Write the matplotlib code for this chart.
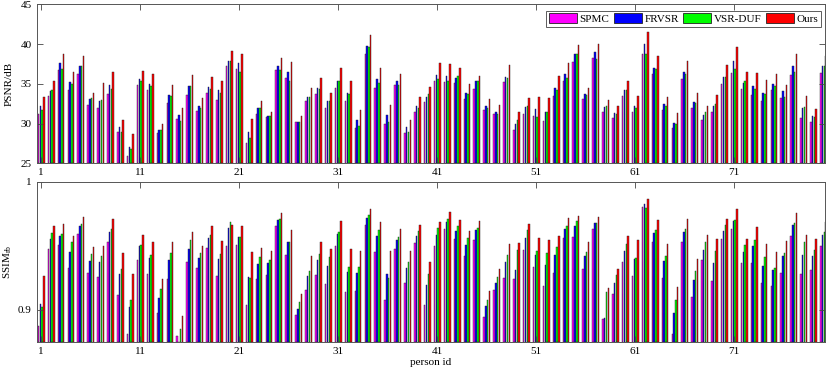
import matplotlib
matplotlib.use("Agg")
import matplotlib.pyplot as plt
import numpy as np

plt.rcParams["font.family"] = ["Liberation Serif", "DejaVu Serif"]
plt.rcParams["mathtext.fontset"] = "custom"
plt.rcParams["mathtext.rm"] = "Liberation Serif"
plt.rcParams["mathtext.it"] = "Liberation Serif"

methods = ["SPMC", "FRVSR", "VSR-DUF", "Ours"]
colors = ["#ff00ff", "#0000ff", "#00ff00", "#ff0000"]
person_ids = np.arange(1, 81)

# PSNR (dB), one value per person id
psnr_spmc = [31.25, 33.5, 36.75, 34.25, 36.2, 32.4, 32.0, 33.75, 28.9, 25.9,
             34.9, 34.2, 28.75, 32.6, 30.6, 33.6, 31.6, 33.9, 33.0, 37.2,
             36.9, 27.6, 31.25, 30.8, 36.7, 35.8, 30.2, 32.8, 33.7, 32.0,
             34.5, 32.9, 29.5, 38.75, 34.5, 30.0, 34.8, 28.75, 31.5, 32.7,
             35.3, 35.2, 35.1, 33.1, 34.4, 31.7, 31.25, 35.2, 29.25, 31.25,
             30.95, 30.3, 33.5, 35.4, 37.7, 33.1, 38.3, 31.4, 30.7, 33.5,
             31.4, 38.75, 36.3, 31.75, 29.4, 35.6, 32.0, 30.5, 31.4, 35.0,
             36.4, 34.3, 33.6, 32.8, 34.25, 33.25, 36.1, 30.75, 30.25, 36.4]
psnr_frvsr = [32.2, 34.1, 37.6, 35.2, 37.2, 33.1, 32.8, 34.8, 29.6, 27.0,
              35.6, 35.0, 29.25, 33.6, 31.1, 34.7, 32.25, 34.6, 34.2, 37.9,
              37.6, 29.0, 31.9, 31.0, 37.25, 36.5, 30.2, 33.4, 34.5, 32.8,
              35.4, 33.9, 30.5, 39.75, 35.6, 31.1, 35.4, 29.6, 32.2, 33.4,
              36.1, 36.0, 35.8, 33.9, 35.3, 32.2, 31.5, 35.9, 29.9, 32.1,
              31.8, 31.5, 34.5, 36.2, 38.7, 33.7, 39.0, 32.1, 31.3, 34.25,
              32.2, 40.0, 37.0, 32.5, 30.1, 36.5, 32.7, 31.1, 32.25, 35.9,
              37.9, 35.1, 34.7, 33.9, 35.0, 34.1, 37.2, 32.0, 30.9, 37.3]
psnr_duf = [31.7, 34.2, 36.9, 35.0, 37.2, 33.25, 33.0, 34.4, 29.0, 26.75,
            35.4, 34.75, 29.25, 33.5, 30.3, 34.75, 32.0, 34.4, 33.8, 37.9,
            36.5, 28.2, 31.9, 31.0, 36.7, 35.4, 30.25, 33.3, 34.3, 32.8,
            35.3, 33.7, 29.7, 39.6, 35.1, 30.25, 34.9, 29.0, 31.9, 33.7,
            35.6, 35.4, 36.0, 33.75, 35.3, 32.0, 31.25, 35.7, 30.5, 32.25,
            30.8, 31.5, 34.25, 35.75, 38.7, 33.6, 38.1, 32.2, 31.25, 34.2,
            31.9, 38.75, 36.9, 32.2, 29.9, 36.2, 32.6, 31.4, 32.5, 35.9,
            36.9, 35.4, 34.4, 33.75, 34.7, 33.3, 36.5, 32.1, 30.8, 37.3]
psnr_ours = [33.4, 35.3, 38.75, 36.5, 38.5, 33.9, 35.1, 36.5, 30.5, 28.7,
             36.6, 36.25, 29.9, 34.9, 32.0, 36.1, 33.2, 35.9, 35.4, 39.1,
             38.7, 30.6, 32.9, 31.4, 38.25, 37.7, 30.9, 34.5, 35.7, 33.9,
             37.0, 35.4, 31.7, 41.2, 37.0, 32.4, 36.3, 30.5, 33.3, 34.6,
             37.6, 37.5, 37.0, 35.0, 36.0, 33.1, 32.4, 37.4, 31.4, 33.2,
             33.3, 33.2, 36.0, 37.6, 39.9, 34.5, 40.0, 33.0, 32.2, 35.3,
             33.5, 41.5, 38.5, 33.3, 31.3, 37.9, 33.8, 32.2, 33.6, 37.4,
             39.6, 36.5, 36.4, 35.5, 36.2, 34.9, 38.7, 33.5, 31.8, 38.5]

# SSIM, one value per person id
ssim_spmc = [0.887, 0.9473, 0.9506, 0.9325, 0.959, 0.929, 0.9257, 0.953, 0.9117, 0.8813,
             0.939, 0.9278, 0.8971, 0.9242, 0.8797, 0.9369, 0.9325, 0.948, 0.926, 0.9494,
             0.9504, 0.9034, 0.9239, 0.927, 0.9655, 0.9429, 0.8961, 0.9156, 0.927, 0.9197,
             0.9496, 0.914, 0.9148, 0.9662, 0.9452, 0.9073, 0.9475, 0.9208, 0.952, 0.9039,
             0.9499, 0.9629, 0.955, 0.9423, 0.9545, 0.8945, 0.915, 0.9249, 0.9242, 0.9468,
             0.9332, 0.9187, 0.9286, 0.9561, 0.9571, 0.932, 0.9631, 0.893, 0.9122, 0.9371,
             0.9265, 0.98, 0.953, 0.9247, 0.881, 0.9532, 0.9101, 0.939, 0.9226, 0.955,
             0.9629, 0.9364, 0.9366, 0.921, 0.9184, 0.9288, 0.9579, 0.9278, 0.9312, 0.9499]
ssim_frvsr = [0.9047, 0.9553, 0.9579, 0.945, 0.9655, 0.938, 0.9374, 0.9608, 0.9278, 0.9018,
              0.9494, 0.940, 0.9094, 0.939, 0.874, 0.9478, 0.940, 0.9558, 0.9395, 0.9642,
              0.9569, 0.9252, 0.9356, 0.9366, 0.9699, 0.9527, 0.9005, 0.9265, 0.9387, 0.9338,
              0.959, 0.9296, 0.9286, 0.9714, 0.9579, 0.9278, 0.9545, 0.9325, 0.9579, 0.9195,
              0.9584, 0.9683, 0.9616, 0.9504, 0.9621, 0.9031, 0.9208, 0.9374, 0.9312, 0.9558,
              0.9429, 0.9348, 0.9429, 0.9634, 0.9655, 0.9421, 0.968, 0.8935, 0.9208, 0.9462,
              0.9397, 0.9829, 0.9603, 0.9384, 0.8977, 0.961, 0.9234, 0.9468, 0.9366, 0.9616,
              0.9694, 0.9452, 0.9499, 0.9345, 0.9312, 0.9421, 0.966, 0.9429, 0.9418, 0.9584]
ssim_duf = [0.902, 0.9597, 0.959, 0.9527, 0.967, 0.9434, 0.942, 0.963, 0.932, 0.9078,
            0.9504, 0.9426, 0.9158, 0.9442, 0.885, 0.9548, 0.9442, 0.9584, 0.9434, 0.9688,
            0.9569, 0.9244, 0.941, 0.9387, 0.9712, 0.9527, 0.9062, 0.9301, 0.9434, 0.9408,
            0.9608, 0.9332, 0.9335, 0.9738, 0.9626, 0.9247, 0.9566, 0.9371, 0.9613, 0.9278,
            0.9636, 0.9706, 0.9655, 0.9558, 0.9642, 0.9078, 0.9255, 0.9429, 0.9465, 0.9623,
            0.9462, 0.9442, 0.9488, 0.9652, 0.9694, 0.9452, 0.968, 0.914, 0.9273, 0.9514,
            0.9405, 0.9797, 0.9623, 0.9421, 0.9075, 0.9634, 0.9304, 0.953, 0.9462, 0.9662,
            0.9701, 0.9506, 0.9545, 0.941, 0.9325, 0.9442, 0.9675, 0.9527, 0.9468, 0.9608]
ssim_ours = [0.9265, 0.9655, 0.967, 0.9577, 0.9722, 0.9486, 0.950, 0.9712, 0.9444, 0.9278,
             0.958, 0.9532, 0.9239, 0.9532, 0.8948, 0.9605, 0.9496, 0.9655, 0.9538, 0.966,
             0.9655, 0.9452, 0.948, 0.9462, 0.9758, 0.9621, 0.9122, 0.9421, 0.953, 0.9473,
             0.9696, 0.9475, 0.9455, 0.9784, 0.9688, 0.9462, 0.9634, 0.9462, 0.9662, 0.9369,
             0.9688, 0.9761, 0.9699, 0.9613, 0.9694, 0.9143, 0.932, 0.9512, 0.952, 0.967,
             0.9564, 0.9548, 0.9574, 0.9719, 0.9732, 0.953, 0.9727, 0.9171, 0.932, 0.9577,
             0.9545, 0.9862, 0.9699, 0.9512, 0.9179, 0.9706, 0.9395, 0.9582, 0.9551, 0.9712,
             0.979, 0.9556, 0.9647, 0.9514, 0.9447, 0.954, 0.9753, 0.9582, 0.9551, 0.9683]

psnr = [psnr_spmc, psnr_frvsr, psnr_duf, psnr_ours]
ssim = [ssim_spmc, ssim_frvsr, ssim_duf, ssim_ours]

fig = plt.figure(figsize=(8.3, 3.69), dpi=100)
ax1 = fig.add_axes([0.0442, 0.5575, 0.9498, 0.4305])
ax2 = fig.add_axes([0.0442, 0.074, 0.9498, 0.4336])

slot = 0.18
width = 0.15


def draw_bars(ax, series, bottom):
    for i, vals in enumerate(series):
        vals = np.array(vals)
        ax.bar(person_ids + (i - 1.5) * slot, vals - bottom, width, bottom=bottom,
               color=colors[i], edgecolor="#222222", linewidth=0.3,
               label=methods[i])


draw_bars(ax1, psnr, 25)
draw_bars(ax2, ssim, 0.875)

for ax in (ax1, ax2):
    ax.set_xlim(0.54, 80.16)
    ax.set_xticks(np.arange(1, 80, 10))
    ax.tick_params(direction="in", top=True, right=True, length=4,
                   labelsize=8, width=0.6, color="#444444")
    for s in ax.spines.values():
        s.set_color("#555555")
        s.set_linewidth(0.7)

ax1.set_ylim(25, 45)
ax1.set_yticks([25, 30, 35, 40, 45])
ax1.set_ylabel("PSNR/dB", fontsize=8)
ax1.yaxis.set_label_coords(-0.029, 0.5)

ax2.set_ylim(0.875, 1)
ax2.set_yticks([0.9, 1])
ax2.set_yticklabels(["0.9", "1"])
ax2.set_ylabel("SSIM$_{rb}$", fontsize=8)
ax2.yaxis.set_label_coords(-0.029, 0.5)
ax2.set_xlabel("person id", fontsize=8, labelpad=2)

leg = ax1.legend(loc="upper right", bbox_to_anchor=(0.998, 0.975), ncol=4,
                 fontsize=8, frameon=True, fancybox=False, handlelength=2.5,
                 handleheight=1.0, columnspacing=0.4, handletextpad=0.25,
                 borderpad=0.25, borderaxespad=0.2)
leg.get_frame().set_edgecolor("#333333")
leg.get_frame().set_linewidth(0.7)
for h in leg.legend_handles:
    h.set_linewidth(0.6)

fig.savefig("out.png", dpi=100)
